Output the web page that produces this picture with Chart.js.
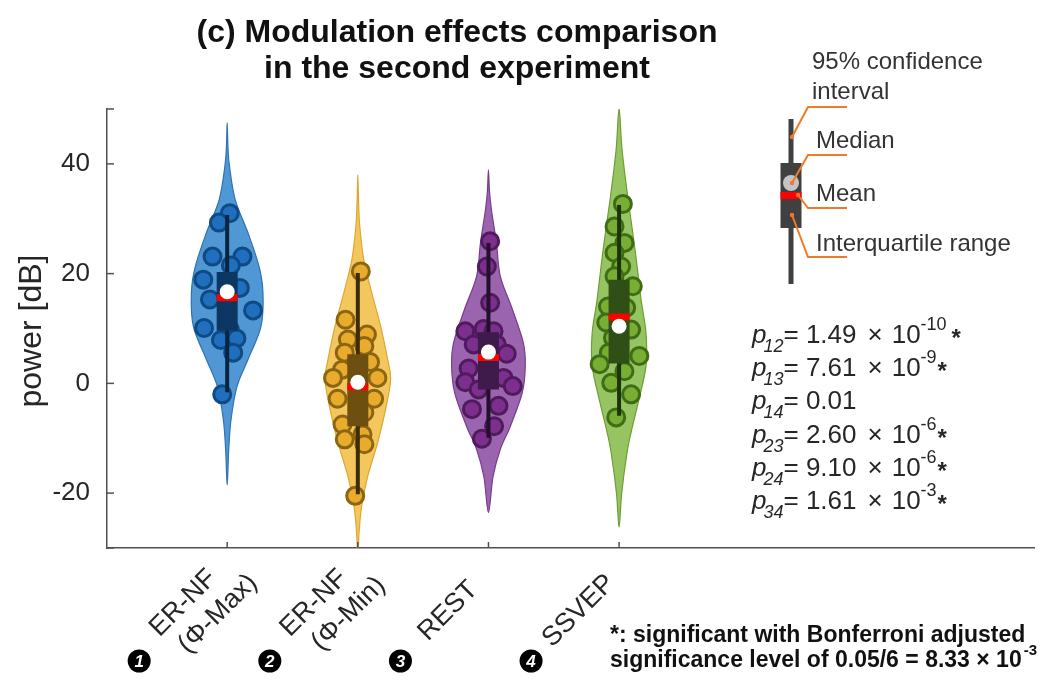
<!DOCTYPE html>
<html>
<head>
<meta charset="utf-8">
<script src="https://cdn.jsdelivr.net/npm/chart.js@4.4.1/dist/chart.umd.min.js"></script>
<style>
  html, body { margin: 0; padding: 0; background: #fff; }
  #wrap { width: 1046px; height: 683px; }
</style>
</head>
<body>
<div id="wrap"><canvas id="chart" width="1046" height="683"></canvas></div>
<script>
// categories and axis ticks
const categories = [['ER-NF', '(Φ-Max)'], ['ER-NF', '(Φ-Min)'], ['REST'], ['SSVEP']];
const yTicks = [-30, -20, 0, 20, 40, 50];
const yTickLabels = ['', '-20', '0', '20', '40', ''];

// individual power values (dB) and their horizontal jitter (category units)
const powerMax = [31.0, 29.3, 23.1, 23.1, 21.5, 18.9, 17.4, 15.3, 13.3, 10.1, 9.8, 7.9, 8.2, 5.6, -2.0];
const jitterMax = [0.02, -0.063, -0.112, 0.117, 0.028, -0.183, 0.097, -0.132, 0.198, -0.177, 0.02, -0.048, 0.071, 0.046, -0.038];
const powerMin = [20.4, 11.6, 8.0, 8.9, 6.8, 5.6, 3.9, 2.5, 1.0, 1.0, -2.8, -2.8, -5.3, -7.5, -9.3, -10.2, -11.1, -20.5];
const jitterMin = [0.023, -0.094, -0.076, 0.07, 0.05, -0.1, 0.094, -0.12, -0.19, 0.15, -0.155, 0.125, 0.05, -0.117, 0.036, -0.1, 0.05, -0.02];
const powerRest = [25.9, 21.3, 14.7, 9.5, 9.9, 9.5, 7.1, 7.1, 5.4, 2.7, 1.0, 0.2, -0.5, -1.1, -4.7, -4.1, -7.8, -10.1];
const jitterRest = [0.013, -0.012, 0.013, -0.177, -0.037, 0.039, -0.113, 0.064, 0.14, -0.152, 0.115, -0.177, 0.186, -0.075, -0.126, 0.077, 0.043, -0.05];
const powerSsvep = [32.7, 28.6, 25.6, 23.8, 21.3, 19.5, 17.7, 14.0, 13.8, 11.1, 9.8, 8.3, 5.6, 3.5, 5.0, 2.2, 0.1, -2.0, -6.2];
const jitterSsvep = [0.029, -0.035, 0.041, -0.035, 0.016, -0.035, 0.105, -0.085, 0.054, -0.098, 0.092, -0.047, -0.078, -0.149, 0.155, 0.041, -0.06, 0.092, -0.022];

// summary statistics
const medians = [16.7, 0.2, 5.7, 10.4];
const means = [15.6, -0.6, 4.7, 12.1];
const q1 = [9.6, -7.8, -1.1, 3.6];
const q3 = [20.3, 5.3, 9.3, 18.9];
const ciLow = [-1.6, -20.2, -9.9, -5.9];
const ciHigh = [30.7, 20.1, 25.6, 32.5];

// violin outlines: levels (dB) and half widths (category units)
const violinLevels = [
    [47.5, 43, 39.5, 33.5, 27.4, 21.3, 16.5, 10.4, 4.4, -0.5, -6.5, -12, -18.5],
    [38, 33, 28.6, 22.5, 16.5, 10.4, 4.4, 0.7, -4.7, -10.8, -16.9, -22.3, -27, -32],
    [38.9, 35, 31.6, 25.6, 19.5, 13.5, 7.4, 3.2, -1.7, -7.8, -12, -17, -23.5],
    [50.1, 42.5, 33.5, 24.4, 15.3, 9.2, 3.2, -2.9, -9, -12.6, -20, -26.2]
];
const violinWidths = [
    [0, 0.006, 0.018, 0.061, 0.16, 0.244, 0.274, 0.259, 0.16, 0.076, 0.03, 0.012, 0],
    [0, 0.006, 0.015, 0.046, 0.107, 0.175, 0.228, 0.251, 0.213, 0.152, 0.076, 0.03, 0.01, 0],
    [0, 0.008, 0.023, 0.061, 0.091, 0.183, 0.267, 0.282, 0.259, 0.168, 0.091, 0.035, 0],
    [0, 0.023, 0.069, 0.122, 0.168, 0.206, 0.206, 0.152, 0.091, 0.061, 0.02, 0]
];

// p values
const pPairs = ['12', '13', '14', '23', '24', '34'];
const pMantissa = ['1.49', '7.61', '0.01', '2.60', '9.10', '1.61'];
const pExponent = ['-10', '-9', '', '-6', '-6', '-3'];
const pSignificant = [true, true, false, true, true, true];

const allPower = [powerMax, powerMin, powerRest, powerSsvep];
const allJitter = [jitterMax, jitterMin, jitterRest, jitterSsvep];

const violinFill = ['#5097d4', '#f4c75e', '#9b64ae', '#97c462'];
const violinEdge = ['#2f73b5', '#dfa630', '#7a3c8e', '#6c9f32'];
const pointFill = ['#1f6fbe', '#e8ab2b', '#7c2f8d', '#77ae33'];
const pointEdge = ['#0e4a85', '#8c6512', '#4f1b5c', '#3f6d16'];
const boxColor = ['#0d3763', '#6d500f', '#3f1b4b', '#2f4f17'];
const whiskerColor = ['#0b2540', '#3d2c06', '#24102c', '#1c330c'];
const axisColor = '#505050';
const textColor = '#262626';
const FONT = '"Liberation Sans", Arial, sans-serif';

const datasets = [];
for (let i = 0; i < 4; i++) {
    const c = i + 1;
    datasets.push({
        data: [{ x: c, y: medians[i] }],
        backgroundColor: '#ffffff', borderWidth: 0, pointRadius: 7.5, order: 1
    });
    datasets.push({
        data: [{ x: c - 0.08, y: means[i] }, { x: c + 0.08, y: means[i] }],
        showLine: true, borderColor: '#ff0000', borderWidth: 7, pointRadius: 0, order: 2
    });
    datasets.push({
        data: [{ x: c, y: q1[i] }, { x: c, y: q3[i] }],
        showLine: true, borderColor: boxColor[i], borderWidth: 21, pointRadius: 0, order: 3
    });
    datasets.push({
        data: [{ x: c, y: ciLow[i] }, { x: c, y: ciHigh[i] }],
        showLine: true, borderColor: whiskerColor[i], borderWidth: 4, pointRadius: 0, order: 4
    });
    datasets.push({
        data: allPower[i].map((v, k) => ({ x: c + allJitter[i][k], y: v })),
        backgroundColor: pointFill[i], borderColor: pointEdge[i], borderWidth: 3,
        pointRadius: 8.5, order: 5
    });
}

function smoothPath(ctx, pts) {
    const n = pts.length;
    ctx.moveTo(pts[0][0], pts[0][1]);
    for (let i = 0; i < n; i++) {
        const p0 = pts[(i - 1 + n) % n], p1 = pts[i], p2 = pts[(i + 1) % n], p3 = pts[(i + 2) % n];
        ctx.bezierCurveTo(
            p1[0] + (p2[0] - p0[0]) / 6, p1[1] + (p2[1] - p0[1]) / 6,
            p2[0] - (p3[0] - p1[0]) / 6, p2[1] - (p3[1] - p1[1]) / 6,
            p2[0], p2[1]);
    }
    ctx.closePath();
}

const violinPlugin = {
    id: 'violins',
    beforeDatasetsDraw(chart) {
        const { ctx, chartArea, scales: { x, y } } = chart;
        ctx.save();
        ctx.beginPath();
        ctx.rect(chartArea.left, chartArea.top, chartArea.width, chartArea.height);
        ctx.clip();
        violinLevels.forEach((levels, i) => {
            const w = violinWidths[i];
            const right = levels.map((v, k) => [x.getPixelForValue(i + 1 + w[k]), y.getPixelForValue(v)]);
            const left = levels.slice(1, -1).map((v, k) => [x.getPixelForValue(i + 1 - w[k + 1]), y.getPixelForValue(v)]).reverse();
            ctx.beginPath();
            smoothPath(ctx, right.concat(left));
            ctx.fillStyle = violinFill[i];
            ctx.fill();
            ctx.strokeStyle = violinEdge[i];
            ctx.lineWidth = 1.2;
            ctx.stroke();
        });
        ctx.restore();
    }
};

function seg(ctx, x1, y1, x2, y2) {
    ctx.beginPath(); ctx.moveTo(x1, y1); ctx.lineTo(x2, y2); ctx.stroke();
}

const annotationPlugin = {
    id: 'annotations',
    afterDraw(chart) {
        const { ctx, chartArea, scales: { x, y } } = chart;
        ctx.save();

        // inward tick marks
        ctx.strokeStyle = axisColor;
        ctx.lineWidth = 1.5;
        yTicks.forEach(v => {
            const py = y.getPixelForValue(v);
            seg(ctx, chartArea.left, py, chartArea.left + 7, py);
        });
        categories.forEach((c, i) => {
            const px = x.getPixelForValue(i + 1);
            seg(ctx, px, chartArea.bottom, px, chartArea.bottom - 6);
        });

        // rotated category labels
        ctx.fillStyle = textColor;
        ctx.font = '27px ' + FONT;
        ctx.textAlign = 'center';
        ctx.textBaseline = 'middle';
        categories.forEach((lines, i) => {
            const px = x.getPixelForValue(i + 1);
            ctx.save();
            ctx.translate(px, chartArea.bottom);
            ctx.rotate(-Math.PI / 4);
            if (lines.length === 1) {
                ctx.fillText(lines[0], -73, 16);
            } else {
                lines.forEach((t, k) => ctx.fillText(t, -70 + 17 * k, 8 + 32 * k));
            }
            ctx.restore();
        });

        // title
        ctx.fillStyle = '#111';
        ctx.textAlign = 'center';
        ctx.textBaseline = 'alphabetic';
        ctx.font = 'bold 32px ' + FONT;
        ctx.fillText('(c) Modulation effects comparison', 457, 42);
        ctx.fillText('in the second experiment', 457, 78);

        // y axis title
        ctx.save();
        ctx.translate(32, 331);
        ctx.rotate(-Math.PI / 2);
        ctx.fillStyle = textColor;
        ctx.font = '32px ' + FONT;
        ctx.textBaseline = 'middle';
        ctx.fillText('power [dB]', 0, 0);
        ctx.restore();

        // numbered markers under categories
        categories.forEach((c, i) => {
            const px = x.getPixelForValue(i + 1) - 88;
            ctx.beginPath();
            ctx.arc(px, 661, 11.5, 0, Math.PI * 2);
            ctx.fillStyle = '#000';
            ctx.fill();
            ctx.fillStyle = '#fff';
            ctx.font = 'italic bold 17px ' + FONT;
            ctx.textAlign = 'center';
            ctx.textBaseline = 'middle';
            ctx.fillText(String(i + 1), px, 662);
        });

        // explanatory box diagram
        const lx = 791;
        ctx.strokeStyle = '#404040';
        ctx.lineWidth = 5;
        seg(ctx, lx, 119, lx, 284);
        ctx.fillStyle = '#404040';
        ctx.fillRect(780.5, 163, 21, 65);
        ctx.fillStyle = '#c4c4c4';
        ctx.beginPath(); ctx.arc(lx, 183, 8, 0, Math.PI * 2); ctx.fill();
        ctx.fillStyle = '#ff0000';
        ctx.fillRect(780.5, 192, 21, 7);
        ctx.strokeStyle = '#f07a28';
        ctx.fillStyle = '#f07a28';
        ctx.lineWidth = 2;
        [[792, 137, 107], [792, 183, 155], [798, 195, 208], [792, 215, 257]].forEach(([sx, sy, ty]) => {
            ctx.beginPath();
            ctx.moveTo(sx, sy); ctx.lineTo(808, ty); ctx.lineTo(847, ty);
            ctx.stroke();
            ctx.beginPath(); ctx.arc(sx, sy, 2.2, 0, Math.PI * 2); ctx.fill();
        });
        ctx.fillStyle = '#333';
        ctx.font = '24px ' + FONT;
        ctx.textAlign = 'left';
        ctx.textBaseline = 'alphabetic';
        ctx.fillText('95% confidence', 812, 69);
        ctx.fillText('interval', 812, 99);
        ctx.fillText('Median', 816, 148);
        ctx.fillText('Mean', 816, 201);
        ctx.fillText('Interquartile range', 816, 251);

        // p values
        ctx.fillStyle = textColor;
        pPairs.forEach((pair, i) => {
            const b = 343 + i * 33.2;
            let cx = 752;
            ctx.font = 'italic 26px ' + FONT;
            ctx.fillText('p', cx, b);
            cx += ctx.measureText('p').width - 3;
            ctx.font = 'italic 18px ' + FONT;
            ctx.fillText(pair, cx, b + 9);
            cx += ctx.measureText(pair).width;
            ctx.font = '26px ' + FONT;
            ctx.fillText('= ' + pMantissa[i], cx, b);
            cx += ctx.measureText('= ' + pMantissa[i]).width;
            if (pExponent[i]) {
                cx += 11;
                ctx.fillText('×', cx, b);
                cx += ctx.measureText('×').width + 9;
                ctx.fillText('10', cx, b);
                cx += ctx.measureText('10').width;
                ctx.font = '18px ' + FONT;
                ctx.fillText(pExponent[i], cx, b - 13);
                cx += ctx.measureText(pExponent[i]).width + (i === 0 ? 5 : 1);
            }
            if (pSignificant[i]) {
                ctx.font = 'bold 24px ' + FONT;
                ctx.fillText('*', cx, b + 3);
            }
        });

        // footnote
        ctx.fillStyle = '#111';
        ctx.font = 'bold 23px ' + FONT;
        ctx.fillText('*: significant with Bonferroni adjusted', 610, 642);
        const l2 = 'significance level of 0.05/6 = 8.33 × 10';
        ctx.fillText(l2, 610, 667);
        const w2 = ctx.measureText(l2).width;
        ctx.font = 'bold 15px ' + FONT;
        ctx.fillText('-3', 610 + w2 + 2, 655);

        ctx.restore();
    }
};

new Chart(document.getElementById('chart'), {
    type: 'scatter',
    data: { datasets: datasets },
    options: {
        responsive: false,
        animation: false,
        layout: { padding: { left: 0, top: 109, right: 11, bottom: 0 } },
        plugins: { legend: { display: false }, tooltip: { enabled: false } },
        scales: {
            x: {
                type: 'linear',
                min: 0.08,
                max: 7.18,
                afterBuildTicks: s => { s.ticks = categories.map((c, i) => ({ value: i + 1 })); },
                afterFit: s => { s.height = 135; },
                grid: { display: false, drawTicks: false },
                border: { display: true, color: axisColor, width: 1.5 },
                ticks: { display: false }
            },
            y: {
                min: -30,
                max: 50,
                afterBuildTicks: s => { s.ticks = yTicks.map(v => ({ value: v })); },
                afterFit: s => { s.width = 107; },
                grid: { display: false, drawTicks: false },
                border: { display: true, color: axisColor, width: 1.5 },
                ticks: {
                    padding: 17,
                    color: textColor,
                    font: { family: FONT, size: 26 },
                    callback: v => yTickLabels[yTicks.indexOf(v)]
                }
            }
        }
    },
    plugins: [violinPlugin, annotationPlugin]
});
</script>
</body>
</html>
